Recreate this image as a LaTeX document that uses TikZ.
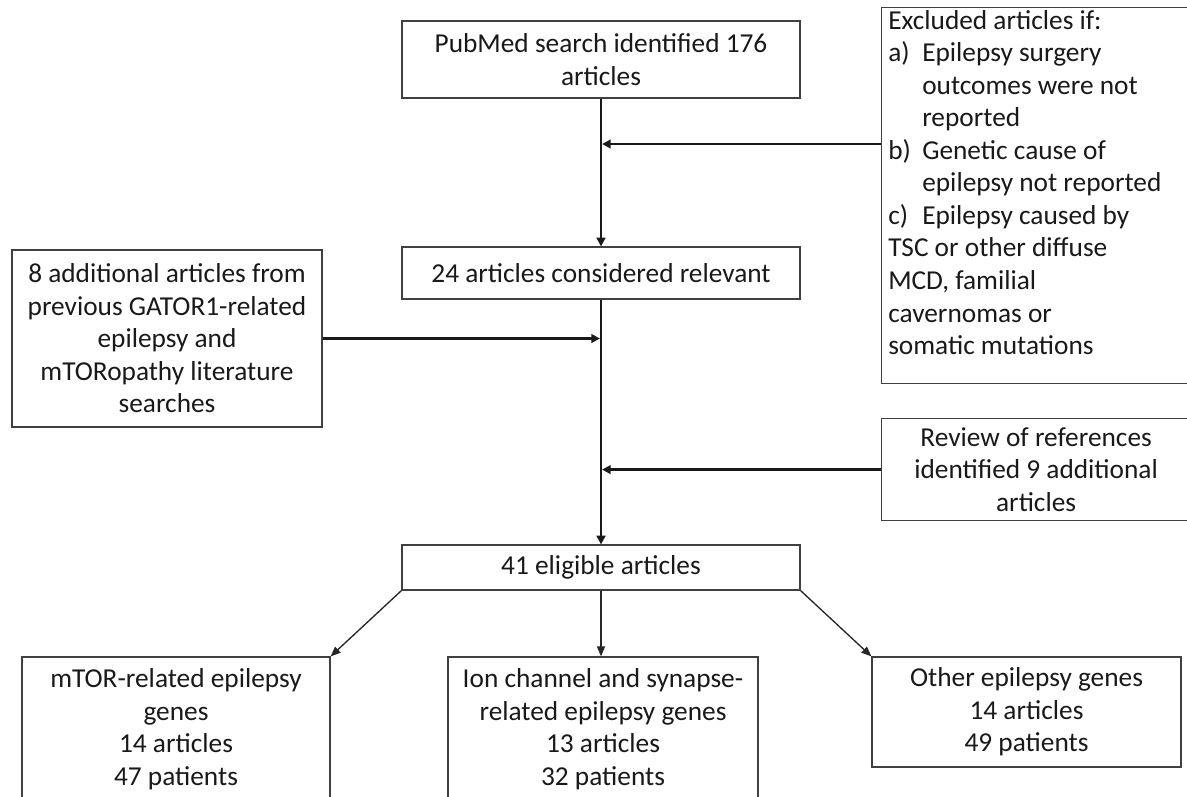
\documentclass[tikz,border=0pt]{standalone}
\usepackage{fontspec}
\setmainfont{Carlito}
\usetikzlibrary{arrows.meta}
\begin{document}
\begin{tikzpicture}[x=0.75pt, y=-0.75pt,
  every node/.style={font=\fontsize{20.5}{24.4}\selectfont, text=black!90},
  flowbox/.style={draw=black!75, line width=0.9pt, align=center, inner sep=0pt},
  mainflow/.style={line width=2pt, draw=black!90, -{Triangle[length=6.5pt,width=6.5pt]}},
  sideflow/.style={mainflow, shorten >=0.8pt},
  branch/.style={line width=1pt, draw=black!85, -{Triangle[length=7.5pt,width=6pt]}},
]
\useasboundingbox (0,0) rectangle (1187,796);
\clip (0,0) rectangle (1187,796);

% main column
\node[flowbox, minimum width=298.5pt, minimum height=57.75pt] (pub) at (601,59.5)
  {PubMed search identified 176\\articles};
\node[flowbox, minimum width=298.5pt, minimum height=39pt] (rel) at (601,273)
  {24 articles considered relevant};
\node[flowbox, minimum width=298.5pt, minimum height=33.75pt] (elig) at (601,567.5)
  {41 eligible articles};

% exclusion criteria
\node[flowbox, anchor=north west, minimum width=231.75pt, minimum height=282pt] (excl) at (881,7) {};
\node[anchor=north west, align=left, inner sep=0pt] (excltext) at (888,10)
  {Excluded articles if:\\
   \makebox[25.5pt][l]{a)}Epilepsy surgery\\
   \hspace*{25.5pt}outcomes were not\\
   \hspace*{25.5pt}reported\\
   \makebox[25.5pt][l]{b)}Genetic cause of\\
   \hspace*{25.5pt}epilepsy not reported\\
   \makebox[25.5pt][l]{c)}Epilepsy caused by\\
   TSC or other diffuse\\
   MCD, familial\\
   cavernomas or\\
   somatic mutations};

% additional sources
\node[flowbox, minimum width=232.5pt, minimum height=132.75pt] (add) at (167,338.5)
  {8 additional articles from\\previous GATOR1-related\\epilepsy and\\mTORopathy literature\\searches};
\node[flowbox, anchor=north west, minimum width=231.75pt, minimum height=76.5pt] (rev) at (881,418)
  {Review of references\\identified 9 additional\\articles};

% gene groups
\node[flowbox, minimum width=231pt, minimum height=108pt] (mtor) at (176,729)
  {mTOR-related epilepsy\\genes\\14 articles\\47 patients};
\node[flowbox, minimum width=232.5pt, minimum height=108pt] (ion) at (603,729)
  {Ion channel and synapse-\\related epilepsy genes\\13 articles\\32 patients};
\node[flowbox, minimum width=231.75pt, minimum height=82.5pt] (other) at (1026.5,712)
  {Other epilepsy genes\\14 articles\\49 patients};

% connectors
\coordinate (exclJoin) at (601,144);
\draw[mainflow] (pub.south) -- (rel.north);
\draw[sideflow] (excl.west |- exclJoin) -- (exclJoin);
\draw[mainflow] (rel.south) -- (elig.north);
\draw[sideflow] (add.east) -- (add.east -| rel.south);
\draw[sideflow] (rev.west) -- (rev.west -| rel.south);
\draw[branch] (elig.south west) -- (mtor.north east);
\draw[branch] (elig.south) -- (elig.south |- ion.north);
\draw[branch] (elig.south east) -- (other.north west);
\end{tikzpicture}
\end{document}
